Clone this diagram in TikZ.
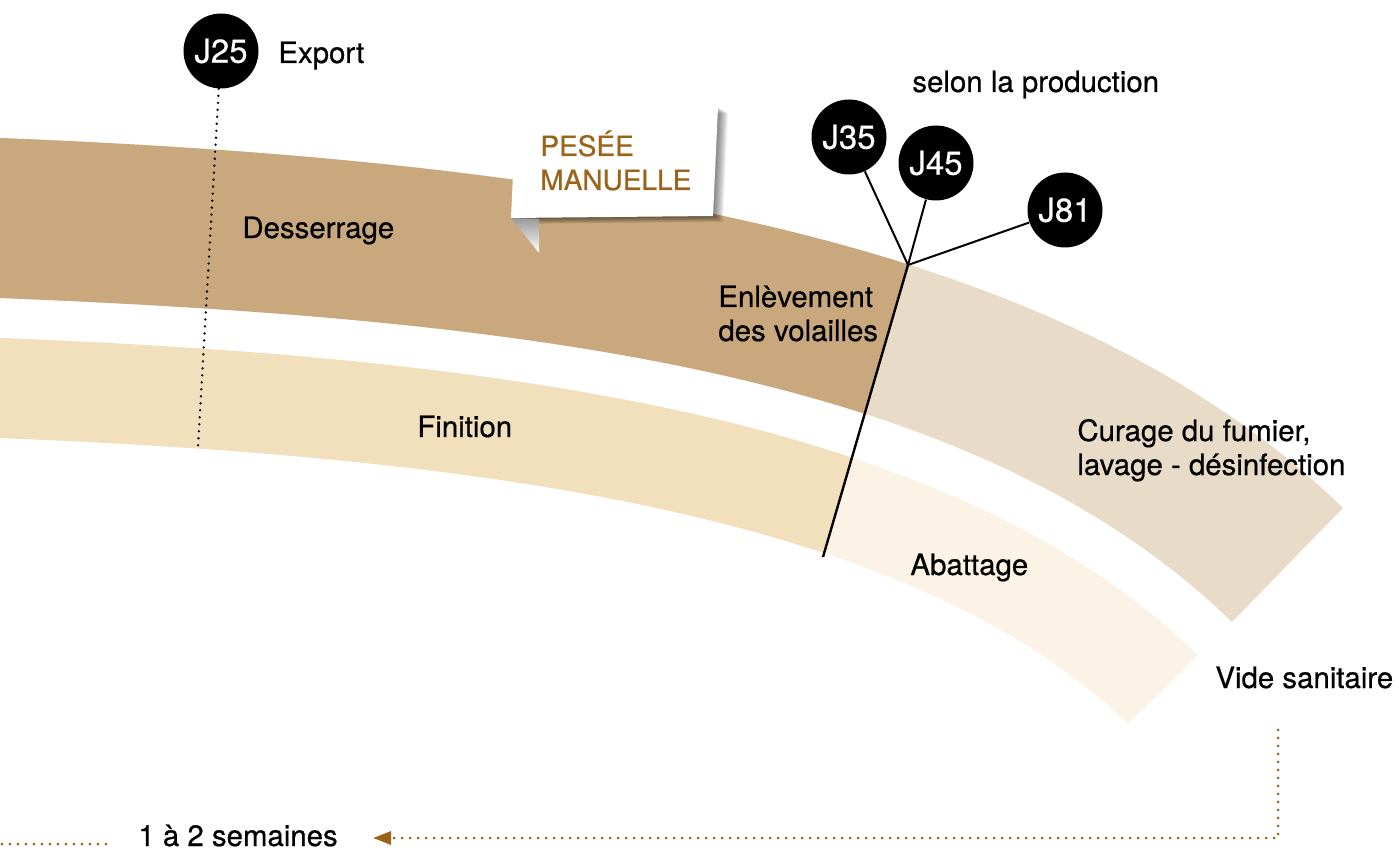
\documentclass[tikz,border=0pt]{standalone}
\usepackage{fontspec}
\setmainfont{TeX Gyre Heros}[FakeBold=0.6]
\usepackage{tikz}
\usetikzlibrary{arrows.meta, positioning}
\definecolor{bandDark}{HTML}{C8A87C}
\definecolor{bandPale}{HTML}{E8DCC8}
\definecolor{finCol}{HTML}{F2E0BC}
\definecolor{abatCol}{HTML}{FAF3E6}
\definecolor{brun}{HTML}{9B6318}
\tikzstyle{lbl}=[inner sep=0pt, anchor=base west, align=left, font=\fontsize{14.7}{17}\selectfont]
\tikzstyle{jday}=[circle, fill=black, text=white, minimum size=37.5pt, inner sep=0pt, font=\fontsize{16.5}{18}\selectfont]
\tikzstyle{stem}=[line width=1pt]
\tikzstyle{dotline}=[line width=1.3pt, line cap=round, dash pattern=on 0pt off 3.5pt]
\tikzstyle{brundots}=[brun, line width=1.5pt, line cap=round, dash pattern=on 0pt off 4pt]
\tikzset{>=Stealth}

\begin{document}
\begin{tikzpicture}[x=0.5pt, y=-0.5pt]
\useasboundingbox (0,0) rectangle (1399,850);
% bandes
\fill[bandPale] (0,138) .. controls (600,162) and (1069,242) .. (1343,508) -- (1232,622) .. controls (980,377) and (550,320) .. (0,298) -- cycle;
\fill[abatCol] (0,338) .. controls (534,359) and (960,424) .. (1198,655) -- (1128,724) .. controls (917,519) and (502,458) .. (0,438) -- cycle;
\begin{scope}
\clip (0,0) -- (985,0) -- (738,850) -- (0,850) -- cycle;
\fill[bandDark] (0,138) .. controls (600,162) and (1069,242) .. (1343,508) -- (1232,622) .. controls (980,377) and (550,320) .. (0,298) -- cycle;
\fill[finCol] (0,338) .. controls (534,359) and (960,424) .. (1198,655) -- (1128,724) .. controls (917,519) and (502,458) .. (0,438) -- cycle;
\end{scope}
%
% etiquette
\foreach \d in {1,...,10}
  \fill[black, opacity=.06, shift={(\d,0.6*\d)}] (516,111) -- (718,107) -- (713,216) -- (511,218) -- cycle;
\shade[top color=black!40, bottom color=white] (511,218) -- (539,219) -- (539,253) -- cycle;
\fill[white] (516,111) -- (718,107) -- (713,216) -- (511,218) -- cycle;
\node[lbl, text=brun, font=\fontsize{14}{17}\selectfont] (pesee) at (540,190) {PESÉE\\MANUELLE};
%
\coordinate (hub) at (908,265);
\coordinate (pied) at (823,557);
\draw[stem, line width=1.2pt] (hub) -- (pied);
\node[jday] (j35) at (849,137) {J35};
\node[jday] (j45) at (936,163) {J45};
\node[jday] (j81) at (1065,210) {J81};
\draw[stem] (hub) -- (j35);
\draw[stem] (hub) -- (j45);
\draw[stem] (hub) -- (j81);
%
\node[jday] (j25) at (221,51) {J25};
\coordinate (j25bas) at (198,447);
\draw[dotline] (j25) -- (j25bas);
\node[lbl] (export) at (278,63) {Export};
%
\node[lbl] (selon) at (912,92) {selon la production};
\node[lbl] (desserrage) at (242,238) {Desserrage};
\node[lbl] (enlev) at (718,341) {Enlèvement\\des volailles};
\node[lbl] (finition) at (417,437) {Finition};
\node[lbl] (curage) at (1077,475) {Curage du fumier,\\lavage - désinfection};
\node[lbl] (abattage) at (910,575) {Abattage};
\node[lbl] (vide) at (1215,688) {Vide sanitaire};
\node[lbl] (semaines) at (138,846) {1 à 2 semaines};
%
\coordinate (videbas) at (1278,730);
\coordinate (fleche) at (373,838);
\draw[brundots, -{Triangle[length=9pt, width=6.5pt]}] (videbas) |- (fleche);
\coordinate (ga) at (2,844);
\coordinate (gb) at (107,844);
\draw[brundots] (ga) -- (gb);
\end{tikzpicture}
\end{document}
